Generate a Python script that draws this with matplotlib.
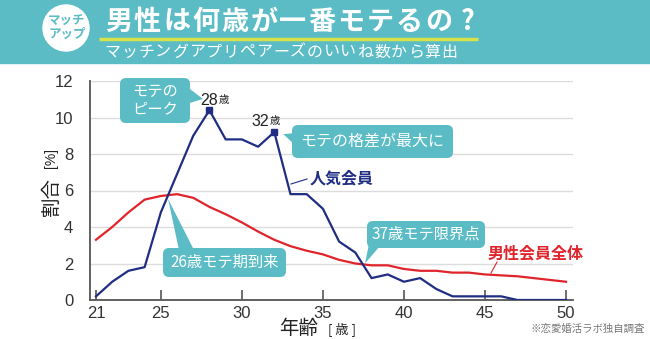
import matplotlib
matplotlib.use("Agg")
import matplotlib.pyplot as plt
from matplotlib.patches import FancyBboxPatch, Polygon, Rectangle, Circle

plt.rcParams['font.family'] = ['Noto Sans CJK JP', 'DejaVu Sans']

ages = list(range(21, 51))
popular = [0.2, 1.0, 1.6, 1.8, 4.8, 6.9, 9.0, 10.4, 8.8, 8.8, 8.4, 9.2,
           5.8, 5.8, 5.0, 3.2, 2.6, 1.2, 1.4, 1.0, 1.2, 0.6, 0.2, 0.2,
           0.2, 0.2, 0.0, 0.0, 0.0, 0.0]
all_men = [3.3, 4.0, 4.8, 5.5, 5.7, 5.8, 5.6, 5.1, 4.7, 4.25, 3.75, 3.3,
           2.95, 2.7, 2.5, 2.2, 2.0, 1.9, 1.9, 1.7, 1.6, 1.6, 1.5, 1.5,
           1.4, 1.35, 1.3, 1.2, 1.1, 1.0]
xticks = [21, 25, 30, 35, 40, 45, 50]
yticks = [0, 2, 4, 6, 8, 10, 12]

TEAL = '#5bbcc6'
NAVY = '#1f2d82'
RED = '#e0242c'
W, H = 650, 339

fig = plt.figure(figsize=(6.5, 3.39), dpi=100)
fig.patch.set_facecolor('white')

ax = fig.add_axes([90 / W, 1 - 300 / H, (573 - 90) / W, (300 - 81) / H])
ax.set_xlim(20.63, 50.43)
ax.set_ylim(0, 12)
ax.set_xticks(xticks)
ax.set_yticks(yticks)
ax.grid(axis='y', color='#dcdcdc', lw=1)
ax.set_axisbelow(True)
for s in ['top', 'right']:
    ax.spines[s].set_visible(False)
for s in ['left', 'bottom']:
    ax.spines[s].set_color('#555555')
    ax.spines[s].set_linewidth(1.3)
ax.tick_params(axis='x', direction='in', length=7, width=1.2, color='#555555',
               labelsize=12, pad=4)
ax.tick_params(axis='y', length=0, labelsize=12, pad=12)
for lab in ax.get_xticklabels() + ax.get_yticklabels():
    lab.set_fontfamily(['Liberation Sans', 'DejaVu Sans'])
    lab.set_color('#333333')

ax.plot(ages, all_men, color=RED, lw=1.6, zorder=3)
ax.plot(ages, popular, color=NAVY, lw=1.6, zorder=4)
ax.plot([ages[7], ages[11]], [popular[7], popular[11]], 's', color=NAVY,
        ms=5, zorder=5)

# overlay in pixel coordinates
ov = fig.add_axes([0, 0, 1, 1])
ov.set_xlim(0, W)
ov.set_ylim(H, 0)
ov.axis('off')
ov.patch.set_alpha(0)


def d2p(x, y):
    disp = ax.transData.transform((x, y))
    return ov.transData.inverted().transform(disp)


def spaced(x0, x1, y, s, **kw):
    n = len(s)
    pitch = (x1 - x0) / n
    for i, ch in enumerate(s):
        ov.text(x0 + pitch * (i + 0.5), y, ch, ha='center', va='center', **kw)


# header
ov.add_patch(Rectangle((0, 0), W, 63, color=TEAL, zorder=1))
ov.add_patch(Circle((66, 28), 23, color='white', zorder=2))
ov.text(67, 28, 'マッチ\nアップ', color=TEAL, fontsize=9, fontweight='bold',
        ha='center', va='center', linespacing=1.0, zorder=3)
spaced(104, 482, 22, '男性は何歳が一番モテるの?', color='white', fontsize=19.5,
       fontweight='bold', zorder=3)
ov.plot([99, 478], [39, 39], color='#d7e24a', lw=2.5, zorder=3,
        solid_capstyle='butt')
spaced(104, 458, 52, 'マッチングアプリペアーズのいいね数から算出', color='white',
       fontsize=11.5, zorder=3)


def callout(x0, y0, w, h, tail, text, fs=11, ls=1.2):
    ov.add_patch(FancyBboxPatch((x0, y0), w, h,
                                boxstyle='round,pad=0,rounding_size=6',
                                fc=TEAL, ec='none', zorder=6))
    ov.add_patch(Polygon(tail, closed=True, fc=TEAL, ec='none', zorder=6))
    ov.text(x0 + w / 2, y0 + h / 2, text, color='white', fontsize=fs,
            ha='center', va='center', linespacing=ls, zorder=7)


# peak callout
callout(120, 78, 70, 45, [(186, 86), (203, 99), (186, 104)],
        'モテの\nピーク', fs=11, ls=1.1)
# gap callout
p32 = d2p(32, popular[11])
callout(292, 125, 161, 33, [(296, 133), (p32[0] + 9, p32[1] + 2), (296, 146)],
        'モテの格差が最大に', fs=11.5)
# 26 callout
cx = d2p(25.45, 5.75)
callout(163, 248, 123, 29, [(179, 250), (cx[0], cx[1] + 4), (194, 250)],
        '26歳モテ期到来', fs=11)
# 37 callout
c37 = d2p(37.6, 1.95)
callout(367, 221, 118, 27, [(369, 244), (c37[0], c37[1] - 1), (380, 246)],
        '37歳モテ限界点', fs=11)

# point labels
p28 = d2p(28, popular[7])
ov.text(p28[0] + 9, p28[1] - 10, '28', fontsize=11.5, ha='right', va='center',
        family=['Liberation Sans', 'DejaVu Sans'], color='#222222', zorder=7)
ov.text(p28[0] + 9.5, p28[1] - 10, '歳', fontsize=7.5, ha='left', va='center',
        color='#222222', zorder=7)
ov.text(p32[0] - 5, p32[1] - 11, '32', fontsize=11.5, ha='right', va='center',
        family=['Liberation Sans', 'DejaVu Sans'], color='#222222', zorder=7)
ov.text(p32[0] - 4.5, p32[1] - 11, '歳', fontsize=7.5, ha='left', va='center',
        color='#222222', zorder=7)

# series labels
ov.plot([291, 307], [184, 179], color=NAVY, lw=0.8, zorder=7)
ov.text(310, 178, '人気会員', color=NAVY, fontsize=11.5, fontweight='bold',
        ha='left', va='center', zorder=7)
ov.plot([491, 497], [273, 262], color=RED, lw=0.8, zorder=7)
ov.text(488, 253, '男性会員全体', color=RED, fontsize=11.5, fontweight='bold',
        ha='left', va='center', zorder=7)

# axis labels
ov.text(51, 196, '割合', fontsize=14, rotation=90, ha='center', va='center',
        color='#222222')
ov.text(51, 158, '[%]', fontsize=10, rotation=90, ha='center', va='center',
        color='#222222', family=['Liberation Sans', 'DejaVu Sans'])
ov.text(299, 328, '年齢', fontsize=14, ha='center', va='center',
        color='#222222')
ov.text(342, 329, '[ 歳 ]', fontsize=9.5, ha='center', va='center',
        color='#222222')
ov.text(645, 329, '※恋愛婚活ラボ独自調査', fontsize=7.5, ha='right',
        va='center', color='#777777')

fig.savefig('out.png', dpi=100, facecolor='white')
